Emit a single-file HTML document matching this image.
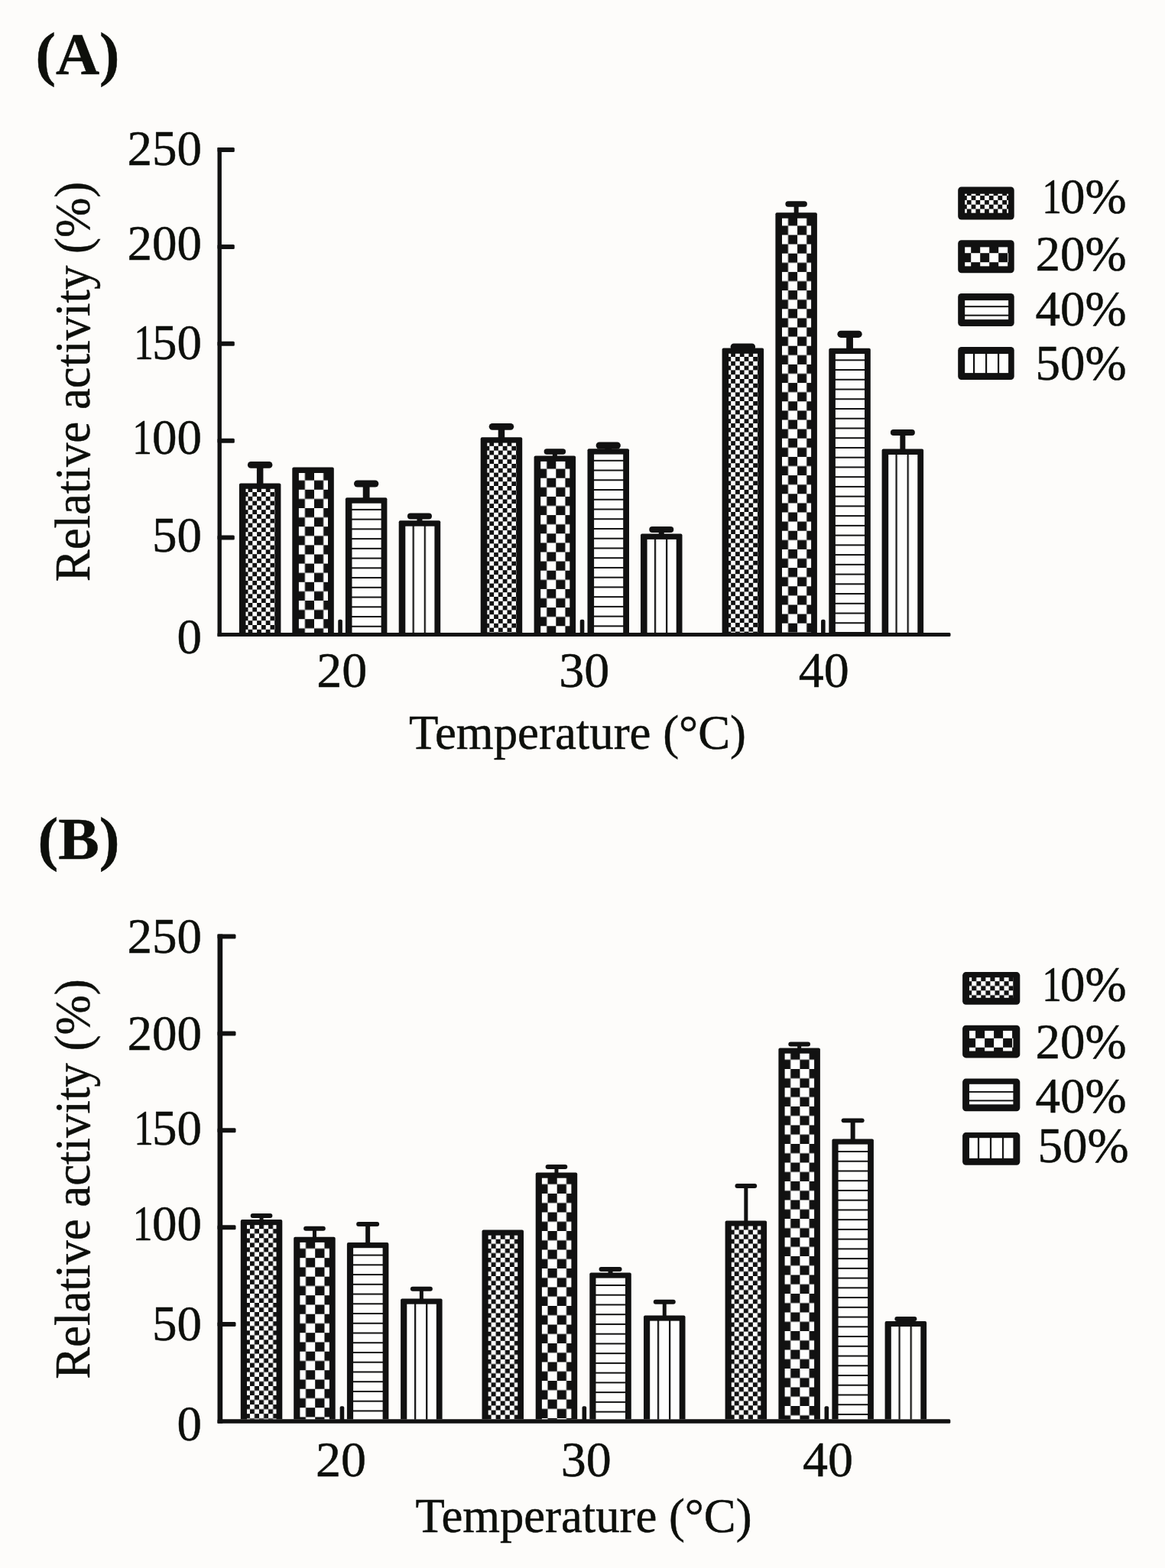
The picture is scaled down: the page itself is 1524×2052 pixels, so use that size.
<!DOCTYPE html>
<html><head><meta charset="utf-8"><title>Relative activity vs temperature</title>
<style>
html,body{margin:0;padding:0;background:#fdfcfa;}
body{width:1524px;height:2052px;overflow:hidden;}
svg{display:block;}
.t{font-family:"Liberation Serif","Times New Roman",serif;fill:#0d0f0b;stroke:#0d0f0b;stroke-width:0.5px;}
.b{font-weight:bold;}
</style></head><body>
<svg width="1524" height="2052" viewBox="0 0 1524 2052">
<defs><pattern id="p1" patternUnits="userSpaceOnUse" x="312.9" y="632.4" width="11.6" height="11.6"><rect width="11.6" height="11.6" fill="#fefefd"/><rect x="5.8" y="0" width="5.8" height="5.8" fill="#111111"/><rect x="0" y="5.8" width="5.8" height="5.8" fill="#111111"/></pattern><pattern id="p2" patternUnits="userSpaceOnUse" x="386.8" y="616.6" width="24.2" height="24.2"><rect width="24.2" height="24.2" fill="#fefefd"/><rect x="12.1" y="0" width="12.1" height="12.1" fill="#111111"/><rect x="0" y="12.1" width="12.1" height="12.1" fill="#111111"/></pattern><pattern id="p3" patternUnits="userSpaceOnUse" x="451.9" y="665.9" width="20" height="12.74"><rect width="20" height="12.74" fill="#fefefd"/><rect x="0" y="0" width="20" height="2" fill="#111111"/></pattern><pattern id="p4" patternUnits="userSpaceOnUse" x="539.6" y="681.3" width="15.1" height="20"><rect width="15.1" height="20" fill="#fefefd"/><rect x="0" y="0" width="2.2" height="20" fill="#111111"/></pattern><pattern id="p5" patternUnits="userSpaceOnUse" x="628.7" y="572.2" width="11.6" height="11.6"><rect width="11.6" height="11.6" fill="#fefefd"/><rect x="5.8" y="0" width="5.8" height="5.8" fill="#111111"/><rect x="0" y="5.8" width="5.8" height="5.8" fill="#111111"/></pattern><pattern id="p6" patternUnits="userSpaceOnUse" x="703.1" y="601.5" width="24.2" height="24.2"><rect width="24.2" height="24.2" fill="#fefefd"/><rect x="12.1" y="0" width="12.1" height="12.1" fill="#111111"/><rect x="0" y="12.1" width="12.1" height="12.1" fill="#111111"/></pattern><pattern id="p7" patternUnits="userSpaceOnUse" x="768.5" y="601.8" width="20" height="12.74"><rect width="20" height="12.74" fill="#fefefd"/><rect x="0" y="0" width="20" height="2" fill="#111111"/></pattern><pattern id="p8" patternUnits="userSpaceOnUse" x="855.9" y="698.5" width="15.1" height="20"><rect width="15.1" height="20" fill="#fefefd"/><rect x="0" y="0" width="2.2" height="20" fill="#111111"/></pattern><pattern id="p9" patternUnits="userSpaceOnUse" x="944.6" y="455.4" width="11.6" height="11.6"><rect width="11.6" height="11.6" fill="#fefefd"/><rect x="5.8" y="0" width="5.8" height="5.8" fill="#111111"/><rect x="0" y="5.8" width="5.8" height="5.8" fill="#111111"/></pattern><pattern id="p10" patternUnits="userSpaceOnUse" x="1018.9" y="283.3" width="24.2" height="24.2"><rect width="24.2" height="24.2" fill="#fefefd"/><rect x="12.1" y="0" width="12.1" height="12.1" fill="#111111"/><rect x="0" y="12.1" width="12.1" height="12.1" fill="#111111"/></pattern><pattern id="p11" patternUnits="userSpaceOnUse" x="1084.3" y="470.3" width="20" height="12.74"><rect width="20" height="12.74" fill="#fefefd"/><rect x="0" y="0" width="20" height="2" fill="#111111"/></pattern><pattern id="p12" patternUnits="userSpaceOnUse" x="1171.5" y="587.6" width="15.1" height="20"><rect width="15.1" height="20" fill="#fefefd"/><rect x="0" y="0" width="2.2" height="20" fill="#111111"/></pattern><pattern id="p13" patternUnits="userSpaceOnUse" x="1253.2" y="244.5" width="11.6" height="11.6"><rect width="11.6" height="11.6" fill="#fefefd"/><rect x="5.8" y="0" width="5.8" height="5.8" fill="#111111"/><rect x="0" y="5.8" width="5.8" height="5.8" fill="#111111"/></pattern><pattern id="p14" patternUnits="userSpaceOnUse" x="1246.2" y="307.2" width="24" height="24"><rect width="24" height="24" fill="#fefefd"/><rect x="12" y="0" width="12" height="12" fill="#111111"/><rect x="0" y="12" width="12" height="12" fill="#111111"/></pattern><pattern id="p15" patternUnits="userSpaceOnUse" x="1253.2" y="400.2" width="20" height="11.5"><rect width="20" height="11.5" fill="#fefefd"/><rect x="0" y="0" width="20" height="2" fill="#111111"/></pattern><pattern id="p16" patternUnits="userSpaceOnUse" x="1273" y="453.9" width="16" height="20"><rect width="16" height="20" fill="#fefefd"/><rect x="0" y="0" width="2.2" height="20" fill="#111111"/></pattern><pattern id="p17" patternUnits="userSpaceOnUse" x="314.8" y="1596.1" width="12.1" height="12.1"><rect width="12.1" height="12.1" fill="#fefefd"/><rect x="6.05" y="0" width="6.05" height="6.05" fill="#111111"/><rect x="0" y="6.05" width="6.05" height="6.05" fill="#111111"/></pattern><pattern id="p18" patternUnits="userSpaceOnUse" x="387.7" y="1621.7" width="24.5" height="24.5"><rect width="24.5" height="24.5" fill="#fefefd"/><rect x="12.25" y="0" width="12.25" height="12.25" fill="#111111"/><rect x="0" y="12.25" width="12.25" height="12.25" fill="#111111"/></pattern><pattern id="p19" patternUnits="userSpaceOnUse" x="453.9" y="1641.6" width="20" height="12.74"><rect width="20" height="12.74" fill="#fefefd"/><rect x="0" y="0" width="20" height="2" fill="#111111"/></pattern><pattern id="p20" patternUnits="userSpaceOnUse" x="542" y="1699.6" width="15.1" height="20"><rect width="15.1" height="20" fill="#fefefd"/><rect x="0" y="0" width="2.2" height="20" fill="#111111"/></pattern><pattern id="p21" patternUnits="userSpaceOnUse" x="630.5" y="1609.6" width="12.1" height="12.1"><rect width="12.1" height="12.1" fill="#fefefd"/><rect x="6.05" y="0" width="6.05" height="6.05" fill="#111111"/><rect x="0" y="6.05" width="6.05" height="6.05" fill="#111111"/></pattern><pattern id="p22" patternUnits="userSpaceOnUse" x="704.2" y="1537.5" width="24.5" height="24.5"><rect width="24.5" height="24.5" fill="#fefefd"/><rect x="12.25" y="0" width="12.25" height="12.25" fill="#111111"/><rect x="0" y="12.25" width="12.25" height="12.25" fill="#111111"/></pattern><pattern id="p23" patternUnits="userSpaceOnUse" x="771.3" y="1681" width="20" height="12.74"><rect width="20" height="12.74" fill="#fefefd"/><rect x="0" y="0" width="20" height="2" fill="#111111"/></pattern><pattern id="p24" patternUnits="userSpaceOnUse" x="859.9" y="1721.5" width="15.1" height="20"><rect width="15.1" height="20" fill="#fefefd"/><rect x="0" y="0" width="2.2" height="20" fill="#111111"/></pattern><pattern id="p25" patternUnits="userSpaceOnUse" x="948.6" y="1597.4" width="12.1" height="12.1"><rect width="12.1" height="12.1" fill="#fefefd"/><rect x="6.05" y="0" width="6.05" height="6.05" fill="#111111"/><rect x="0" y="6.05" width="6.05" height="6.05" fill="#111111"/></pattern><pattern id="p26" patternUnits="userSpaceOnUse" x="1021.9" y="1374.5" width="24.5" height="24.5"><rect width="24.5" height="24.5" fill="#fefefd"/><rect x="12.25" y="0" width="12.25" height="12.25" fill="#111111"/><rect x="0" y="12.25" width="12.25" height="12.25" fill="#111111"/></pattern><pattern id="p27" patternUnits="userSpaceOnUse" x="1088.4" y="1506" width="20" height="12.74"><rect width="20" height="12.74" fill="#fefefd"/><rect x="0" y="0" width="20" height="2" fill="#111111"/></pattern><pattern id="p28" patternUnits="userSpaceOnUse" x="1175.5" y="1729" width="15.1" height="20"><rect width="15.1" height="20" fill="#fefefd"/><rect x="0" y="0" width="2.2" height="20" fill="#111111"/></pattern><pattern id="p29" patternUnits="userSpaceOnUse" x="1259.1" y="1272.1" width="12.1" height="12.1"><rect width="12.1" height="12.1" fill="#fefefd"/><rect x="6.05" y="0" width="6.05" height="6.05" fill="#111111"/><rect x="0" y="6.05" width="6.05" height="6.05" fill="#111111"/></pattern><pattern id="p30" patternUnits="userSpaceOnUse" x="1252.1" y="1334.8" width="24" height="24"><rect width="24" height="24" fill="#fefefd"/><rect x="12" y="0" width="12" height="12" fill="#111111"/><rect x="0" y="12" width="12" height="12" fill="#111111"/></pattern><pattern id="p31" patternUnits="userSpaceOnUse" x="1259.1" y="1427.9" width="20" height="11.5"><rect width="20" height="11.5" fill="#fefefd"/><rect x="0" y="0" width="20" height="2" fill="#111111"/></pattern><pattern id="p32" patternUnits="userSpaceOnUse" x="1278.9" y="1482.1" width="16" height="20"><rect width="16" height="20" fill="#fefefd"/><rect x="0" y="0" width="2.2" height="20" fill="#111111"/></pattern></defs>
<rect width="1524" height="2052" fill="#fdfcfa"/>
<rect x="284.5" y="193" width="5.4" height="640.1" fill="#111111"/>
<rect x="284.5" y="700.6" width="22.3" height="6" fill="#111111" rx="1.5"/>
<rect x="284.5" y="573.7" width="22.3" height="6" fill="#111111" rx="1.5"/>
<rect x="284.5" y="446.8" width="22.3" height="6" fill="#111111" rx="1.5"/>
<rect x="284.5" y="319.9" width="22.3" height="6" fill="#111111" rx="1.5"/>
<rect x="284.5" y="193" width="22.3" height="6" fill="#111111" rx="1.5"/>
<rect x="284.5" y="827.9" width="959" height="5.2" rx="1.5" fill="#111111"/>
<rect x="442.25" y="810.7" width="5.6" height="19.8" rx="2" fill="#111111"/>
<rect x="758.75" y="810.7" width="5.6" height="19.8" rx="2" fill="#111111"/>
<rect x="1074.05" y="810.7" width="5.6" height="19.8" rx="2" fill="#111111"/>
<path d="M312.9,827.9V634.4Q312.9,632.4 314.9,632.4H365.4Q367.4,632.4 367.4,634.4V827.9Z" fill="#111111"/>
<rect x="321.5" y="639.8" width="38.1" height="188.1" fill="url(#p1)"/>
<path d="M382.3,827.9V613.6Q382.3,611.6 384.3,611.6H434.8Q436.8,611.6 436.8,613.6V827.9Z" fill="#111111"/>
<rect x="390.9" y="619" width="38.1" height="208.9" fill="url(#p2)"/>
<path d="M451.9,827.9V653.3Q451.9,651.3 453.9,651.3H504.4Q506.4,651.3 506.4,653.3V827.9Z" fill="#111111"/>
<rect x="460.5" y="658.7" width="38.1" height="169.2" fill="url(#p3)"/>
<path d="M521.7,827.9V683.3Q521.7,681.3 523.7,681.3H574.2Q576.2,681.3 576.2,683.3V827.9Z" fill="#111111"/>
<rect x="530.3" y="688.7" width="38.1" height="139.2" fill="url(#p4)"/>
<path d="M628.7,827.9V574.2Q628.7,572.2 630.7,572.2H681.2Q683.2,572.2 683.2,574.2V827.9Z" fill="#111111"/>
<rect x="637.3" y="579.6" width="38.1" height="248.3" fill="url(#p5)"/>
<path d="M698.6,827.9V598.5Q698.6,596.5 700.6,596.5H751.1Q753.1,596.5 753.1,598.5V827.9Z" fill="#111111"/>
<rect x="707.2" y="603.9" width="38.1" height="224" fill="url(#p6)"/>
<path d="M768.5,827.9V589.2Q768.5,587.2 770.5,587.2H821Q823,587.2 823,589.2V827.9Z" fill="#111111"/>
<rect x="777.1" y="594.6" width="38.1" height="233.3" fill="url(#p7)"/>
<path d="M838,827.9V700.5Q838,698.5 840,698.5H890.5Q892.5,698.5 892.5,700.5V827.9Z" fill="#111111"/>
<rect x="846.6" y="705.9" width="38.1" height="122" fill="url(#p8)"/>
<path d="M944.6,827.9V457.4Q944.6,455.4 946.6,455.4H997.1Q999.1,455.4 999.1,457.4V827.9Z" fill="#111111"/>
<rect x="953.2" y="462.8" width="38.1" height="365.1" fill="url(#p9)"/>
<path d="M1014.4,827.9V280.3Q1014.4,278.3 1016.4,278.3H1066.9Q1068.9,278.3 1068.9,280.3V827.9Z" fill="#111111"/>
<rect x="1023" y="285.7" width="38.1" height="542.2" fill="url(#p10)"/>
<path d="M1084.3,827.9V457.7Q1084.3,455.7 1086.3,455.7H1136.8Q1138.8,455.7 1138.8,457.7V827.9Z" fill="#111111"/>
<rect x="1092.9" y="463.1" width="38.1" height="364.8" fill="url(#p11)"/>
<path d="M1153.6,827.9V589.6Q1153.6,587.6 1155.6,587.6H1206.1Q1208.1,587.6 1208.1,589.6V827.9Z" fill="#111111"/>
<rect x="1162.2" y="595" width="38.1" height="232.9" fill="url(#p12)"/>
<rect x="335.9" y="608.4" width="8.5" height="26" fill="#111111"/>
<rect x="323.9" y="604" width="32.5" height="8.8" rx="4.4" fill="#111111"/>
<rect x="474.75" y="633" width="8.8" height="20.3" fill="#111111"/>
<rect x="463" y="628.4" width="32.3" height="9.2" rx="4.6" fill="#111111"/>
<rect x="545.45" y="675.6" width="7" height="7.7" fill="#111111"/>
<rect x="532.95" y="671.6" width="32" height="8" rx="4" fill="#111111"/>
<rect x="651.7" y="558.3" width="8.5" height="15.9" fill="#111111"/>
<rect x="639.7" y="553.9" width="32.5" height="8.8" rx="4.4" fill="#111111"/>
<rect x="722.85" y="591" width="6" height="7.5" fill="#111111"/>
<rect x="711.6" y="587.3" width="28.5" height="7.4" rx="3.7" fill="#111111"/>
<rect x="791.35" y="583" width="8.8" height="6.2" fill="#111111"/>
<rect x="779.6" y="578.4" width="32.3" height="9.2" rx="4.6" fill="#111111"/>
<rect x="861.75" y="693" width="7" height="7.5" fill="#111111"/>
<rect x="849.25" y="689" width="32" height="8" rx="4" fill="#111111"/>
<rect x="967.6" y="453.9" width="8.5" height="3.5" fill="#111111"/>
<rect x="955.6" y="449.5" width="32.5" height="8.8" rx="4.4" fill="#111111"/>
<rect x="1038.65" y="267" width="6" height="13.3" fill="#111111"/>
<rect x="1027.4" y="263.3" width="28.5" height="7.4" rx="3.7" fill="#111111"/>
<rect x="1107.15" y="437.3" width="8.8" height="20.4" fill="#111111"/>
<rect x="1095.4" y="432.7" width="32.3" height="9.2" rx="4.6" fill="#111111"/>
<rect x="1177.35" y="566" width="7" height="23.6" fill="#111111"/>
<rect x="1164.85" y="562" width="32" height="8" rx="4" fill="#111111"/>
<text x="264" y="854.9" text-anchor="end" class="t" font-size="65">0</text>
<text x="264" y="722.3" text-anchor="end" class="t" font-size="65">50</text>
<text y="594.2" class="t" font-size="65"><tspan x="173.17" textLength="25.68" lengthAdjust="spacingAndGlyphs">1</tspan><tspan x="199">00</tspan></text>
<text y="470.2" class="t" font-size="65"><tspan x="175.27" textLength="25.68" lengthAdjust="spacingAndGlyphs">1</tspan><tspan x="199">50</tspan></text>
<text x="264" y="339.7" text-anchor="end" class="t" font-size="65">200</text>
<text x="264" y="215.9" text-anchor="end" class="t" font-size="65">250</text>
<text x="447.2" y="899.3" text-anchor="middle" class="t" font-size="66">20</text>
<text x="764.3" y="899.3" text-anchor="middle" class="t" font-size="66">30</text>
<text x="1077.7" y="899.3" text-anchor="middle" class="t" font-size="66">40</text>
<text x="535" y="980" class="t" font-size="64" textLength="441" lengthAdjust="spacingAndGlyphs">Temperature (°C)</text>
<text transform="translate(117,761.2) rotate(-90)" class="t" font-size="66" textLength="523.5" lengthAdjust="spacingAndGlyphs">Relative activity (%)</text>
<rect x="1253.2" y="244.5" width="73.5" height="43.1" rx="4.5" fill="#111111"/>
<rect x="1262.2" y="253.7" width="56.9" height="25" fill="url(#p13)"/>
<text y="279" class="t" font-size="65"><tspan x="1363.17" textLength="25.68" lengthAdjust="spacingAndGlyphs">1</tspan><tspan x="1387">0%</tspan></text>
<rect x="1253.2" y="314.2" width="73.5" height="43.1" rx="4.5" fill="#111111"/>
<rect x="1262.2" y="323.4" width="56.9" height="25" fill="url(#p14)"/>
<text x="1354.5" y="353.5" class="t" font-size="65">20%</text>
<rect x="1253.2" y="383.9" width="73.5" height="43.1" rx="4.5" fill="#111111"/>
<rect x="1262.2" y="393.1" width="56.9" height="25" fill="url(#p15)"/>
<text x="1354.5" y="425.5" class="t" font-size="65">40%</text>
<rect x="1253.2" y="453.9" width="73.5" height="43.1" rx="4.5" fill="#111111"/>
<rect x="1262.2" y="463.1" width="56.9" height="25" fill="url(#p16)"/>
<text x="1354.5" y="497" class="t" font-size="65">50%</text>
<text x="46.5" y="96.8" class="t b" font-size="78" textLength="110" lengthAdjust="spacingAndGlyphs">(A)</text>
<rect x="284.5" y="1222.5" width="6.7" height="640.25" fill="#111111"/>
<rect x="284.5" y="1730.1" width="24" height="6" fill="#111111" rx="1.5"/>
<rect x="284.5" y="1603.2" width="24" height="6" fill="#111111" rx="1.5"/>
<rect x="284.5" y="1476.3" width="24" height="6" fill="#111111" rx="1.5"/>
<rect x="284.5" y="1349.4" width="24" height="6" fill="#111111" rx="1.5"/>
<rect x="284.5" y="1222.5" width="24" height="6" fill="#111111" rx="1.5"/>
<rect x="284.5" y="1857.25" width="958.8" height="5.5" rx="1.5" fill="#111111"/>
<rect x="444.65" y="1840.3" width="5.6" height="19.7" rx="2" fill="#111111"/>
<rect x="761.55" y="1840.3" width="5.6" height="19.7" rx="2" fill="#111111"/>
<rect x="1078.55" y="1840.3" width="5.6" height="19.7" rx="2" fill="#111111"/>
<path d="M314.8,1857.25V1598.1Q314.8,1596.1 316.8,1596.1H367.3Q369.3,1596.1 369.3,1598.1V1857.25Z" fill="#111111"/>
<rect x="323" y="1603.2" width="38.5" height="254.05" fill="url(#p17)"/>
<path d="M384.2,1857.25V1620.8Q384.2,1618.8 386.2,1618.8H436.7Q438.7,1618.8 438.7,1620.8V1857.25Z" fill="#111111"/>
<rect x="392.4" y="1625.9" width="38.5" height="231.35" fill="url(#p18)"/>
<path d="M453.9,1857.25V1628.1Q453.9,1626.1 455.9,1626.1H506.4Q508.4,1626.1 508.4,1628.1V1857.25Z" fill="#111111"/>
<rect x="462.1" y="1633.2" width="38.5" height="224.05" fill="url(#p19)"/>
<path d="M524.1,1857.25V1701.6Q524.1,1699.6 526.1,1699.6H576.6Q578.6,1699.6 578.6,1701.6V1857.25Z" fill="#111111"/>
<rect x="532.3" y="1706.7" width="38.5" height="150.55" fill="url(#p20)"/>
<path d="M630.5,1857.25V1611.6Q630.5,1609.6 632.5,1609.6H683Q685,1609.6 685,1611.6V1857.25Z" fill="#111111"/>
<rect x="638.7" y="1616.7" width="38.5" height="240.55" fill="url(#p21)"/>
<path d="M700.7,1857.25V1536.6Q700.7,1534.6 702.7,1534.6H753.2Q755.2,1534.6 755.2,1536.6V1857.25Z" fill="#111111"/>
<rect x="708.9" y="1541.7" width="38.5" height="315.55" fill="url(#p22)"/>
<path d="M771.3,1857.25V1667.5Q771.3,1665.5 773.3,1665.5H823.8Q825.8,1665.5 825.8,1667.5V1857.25Z" fill="#111111"/>
<rect x="779.5" y="1672.6" width="38.5" height="184.65" fill="url(#p23)"/>
<path d="M842,1857.25V1723.5Q842,1721.5 844,1721.5H894.5Q896.5,1721.5 896.5,1723.5V1857.25Z" fill="#111111"/>
<rect x="850.2" y="1728.6" width="38.5" height="128.65" fill="url(#p24)"/>
<path d="M948.6,1857.25V1599.4Q948.6,1597.4 950.6,1597.4H1001.1Q1003.1,1597.4 1003.1,1599.4V1857.25Z" fill="#111111"/>
<rect x="956.8" y="1604.5" width="38.5" height="252.75" fill="url(#p25)"/>
<path d="M1018.4,1857.25V1373.6Q1018.4,1371.6 1020.4,1371.6H1070.9Q1072.9,1371.6 1072.9,1373.6V1857.25Z" fill="#111111"/>
<rect x="1026.6" y="1378.7" width="38.5" height="478.55" fill="url(#p26)"/>
<path d="M1088.4,1857.25V1492.5Q1088.4,1490.5 1090.4,1490.5H1140.9Q1142.9,1490.5 1142.9,1492.5V1857.25Z" fill="#111111"/>
<rect x="1096.6" y="1497.6" width="38.5" height="359.65" fill="url(#p27)"/>
<path d="M1157.6,1857.25V1731Q1157.6,1729 1159.6,1729H1210.1Q1212.1,1729 1212.1,1731V1857.25Z" fill="#111111"/>
<rect x="1165.8" y="1736.1" width="38.5" height="121.15" fill="url(#p28)"/>
<rect x="339.55" y="1591" width="5" height="7.1" fill="#111111"/>
<rect x="327.7" y="1588" width="28.7" height="6" rx="3" fill="#111111"/>
<rect x="408.95" y="1607.8" width="5" height="13" fill="#111111"/>
<rect x="397.1" y="1604.8" width="28.7" height="6" rx="3" fill="#111111"/>
<rect x="478.15" y="1602" width="6" height="26.1" fill="#111111"/>
<rect x="466.15" y="1599.1" width="30" height="5.8" rx="2.9" fill="#111111"/>
<rect x="548.85" y="1686.7" width="5" height="14.9" fill="#111111"/>
<rect x="536.85" y="1683.7" width="29" height="6" rx="3" fill="#111111"/>
<rect x="725.45" y="1527" width="5" height="9.6" fill="#111111"/>
<rect x="713.6" y="1524" width="28.7" height="6" rx="3" fill="#111111"/>
<rect x="795.55" y="1661" width="6" height="6.5" fill="#111111"/>
<rect x="783.55" y="1658.1" width="30" height="5.8" rx="2.9" fill="#111111"/>
<rect x="866.75" y="1703.7" width="5" height="19.8" fill="#111111"/>
<rect x="854.75" y="1700.7" width="29" height="6" rx="3" fill="#111111"/>
<rect x="973.35" y="1552.1" width="5" height="47.3" fill="#111111"/>
<rect x="961.5" y="1549.1" width="28.7" height="6" rx="3" fill="#111111"/>
<rect x="1043.15" y="1366.6" width="5" height="7" fill="#111111"/>
<rect x="1031.3" y="1363.6" width="28.7" height="6" rx="3" fill="#111111"/>
<rect x="1112.65" y="1466.3" width="6" height="26.2" fill="#111111"/>
<rect x="1100.65" y="1463.4" width="30" height="5.8" rx="2.9" fill="#111111"/>
<rect x="1182.35" y="1726" width="5" height="5" fill="#111111"/>
<rect x="1170.35" y="1723" width="29" height="6" rx="3" fill="#111111"/>
<text x="264" y="1885" text-anchor="end" class="t" font-size="65">0</text>
<text x="264" y="1753.7" text-anchor="end" class="t" font-size="65">50</text>
<text y="1623.3" class="t" font-size="65"><tspan x="173.67" textLength="25.68" lengthAdjust="spacingAndGlyphs">1</tspan><tspan x="199">00</tspan></text>
<text y="1497.8" class="t" font-size="65"><tspan x="175.17" textLength="25.68" lengthAdjust="spacingAndGlyphs">1</tspan><tspan x="199">50</tspan></text>
<text x="264" y="1373.6" text-anchor="end" class="t" font-size="65">200</text>
<text x="264" y="1247.1" text-anchor="end" class="t" font-size="65">250</text>
<text x="445.9" y="1932.2" text-anchor="middle" class="t" font-size="66">20</text>
<text x="766.8" y="1932.2" text-anchor="middle" class="t" font-size="66">30</text>
<text x="1083" y="1932.2" text-anchor="middle" class="t" font-size="66">40</text>
<text x="543.5" y="2005" class="t" font-size="64" textLength="440" lengthAdjust="spacingAndGlyphs">Temperature (°C)</text>
<text transform="translate(117,1804.8) rotate(-90)" class="t" font-size="66" textLength="523.5" lengthAdjust="spacingAndGlyphs">Relative activity (%)</text>
<rect x="1259.1" y="1272.1" width="75.2" height="42.6" rx="4.5" fill="#111111"/>
<rect x="1268" y="1279.2" width="57.4" height="26.6" fill="url(#p29)"/>
<text y="1309.5" class="t" font-size="65"><tspan x="1363.17" textLength="25.68" lengthAdjust="spacingAndGlyphs">1</tspan><tspan x="1387">0%</tspan></text>
<rect x="1259.1" y="1341.8" width="75.2" height="42.6" rx="4.5" fill="#111111"/>
<rect x="1268" y="1348.9" width="57.4" height="26.6" fill="url(#p30)"/>
<text x="1354.5" y="1384.5" class="t" font-size="65">20%</text>
<rect x="1259.1" y="1411.6" width="75.2" height="42.6" rx="4.5" fill="#111111"/>
<rect x="1268" y="1418.7" width="57.4" height="26.6" fill="url(#p31)"/>
<text x="1354.5" y="1456" class="t" font-size="65">40%</text>
<rect x="1259.1" y="1482.1" width="75.2" height="42.6" rx="4.5" fill="#111111"/>
<rect x="1268" y="1489.2" width="57.4" height="26.6" fill="url(#p32)"/>
<text x="1357.5" y="1520.5" class="t" font-size="65">50%</text>
<text x="49.5" y="1124.3" class="t b" font-size="78" textLength="107" lengthAdjust="spacingAndGlyphs">(B)</text>
</svg>
</body></html>
